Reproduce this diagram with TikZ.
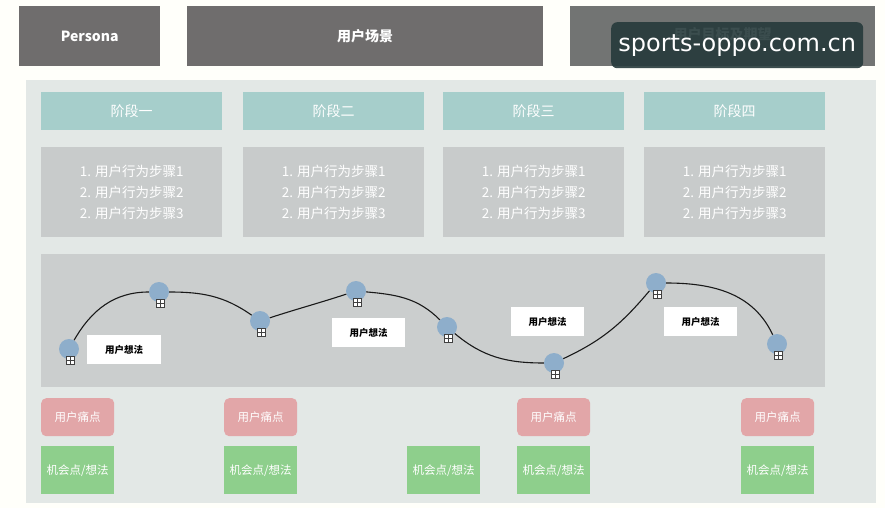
\documentclass[tikz,border=0pt]{standalone}
\usepackage{fontspec}
\setmainfont{Noto Sans CJK SC}
\newfontfamily\wmfont{DejaVu Sans}
\usetikzlibrary{positioning}
\definecolor{hdr}{HTML}{6F6D6D}
\definecolor{hdrb}{HTML}{727473}
\definecolor{panel}{HTML}{E3E8E6}
\definecolor{stage}{HTML}{A6CECB}
\definecolor{stepc}{HTML}{C8CBCB}
\definecolor{wave}{HTML}{CBCECE}
\definecolor{dot}{HTML}{8EAECB}
\definecolor{pain}{HTML}{E2A6A8}
\definecolor{opp}{HTML}{8ECF8C}
\definecolor{wm}{HTML}{263A3B}
\tikzset{
  px/.style={x=1pt,y=-1pt},
  box/.style={draw=none,inner sep=0pt,anchor=north west},
  hdrbox/.style={box,fill=hdr,text=white,font=\bfseries\fontsize{14}{16}\selectfont},
  stagebox/.style={box,fill=stage,text=white,font=\fontsize{14}{16}\selectfont},
  stepbox/.style={box,fill=stepc,text=white,align=center,font=\fontsize{13.5}{21}\selectfont},
  dotnode/.style={circle,fill=dot,minimum size=20pt,inner sep=0pt},
  plusbox/.style={draw=black!75,fill=white,minimum size=8pt,inner sep=0pt,line width=0.6pt,
    path picture={\draw[black!75,line width=0.6pt] (path picture bounding box.west) -- (path picture bounding box.east)
      (path picture bounding box.north) -- (path picture bounding box.south);}},
  thought/.style={box,fill=white,text=black,font=\bfseries\fontsize{9.5}{11}\selectfont},
  painbox/.style={box,fill=pain,rounded corners=5pt,text=white,font=\fontsize{11.5}{13}\selectfont},
  oppbox/.style={box,fill=opp,text=white,font=\fontsize{11.5}{13}\selectfont},
  wave line/.style={draw=black!90,line width=1.1pt},
}
\newcommand{\steptext}{1. 用户行为步骤1\\2. 用户行为步骤2\\2. 用户行为步骤3}
\begin{document}
\begin{tikzpicture}[px]
\useasboundingbox (0,0) rectangle (885,508);
\fill[white!98!yellow] (0,0) rectangle (885,508);
% headers
\node[hdrbox,minimum width=141pt,minimum height=60pt] (persona) at (19,6) {Persona};
\node[hdrbox,minimum width=356pt,minimum height=60pt] (scene) at (187,6) {用户场景};
\node[hdrbox,fill=hdrb,minimum width=305pt,minimum height=60pt] (goal) at (570,6) {\raisebox{6pt}{用户目标及期望}};
% watermark
\node[box,fill=wm,fill opacity=0.9,text opacity=1,rounded corners=6pt,minimum width=252pt,minimum height=46pt,text=white,font=\wmfont\fontsize{24}{26}\selectfont] (wmk) at (611,22) {\raisebox{-3pt}{sports-oppo.com.cn}};
% panel
\node[box,fill=panel,minimum width=850pt,minimum height=423pt] (panel) at (26,80) {};
% stages
\foreach \i/\x/\t in {1/41/阶段一,2/243/阶段二,3/443/阶段三,4/644/阶段四}{
  \node[stagebox,minimum width=181pt,minimum height=38pt] (stage\i) at (\x,92) {\t};
  \node[stepbox,minimum width=181pt,minimum height=90pt] (steps\i) at (\x,147) {\steptext};
}
% wave panel
\node[box,fill=wave,minimum width=784pt,minimum height=133pt] (wave) at (41,254) {};
% thoughts
\node[thought,minimum width=74pt,minimum height=29pt] (tA) at (87,335) {用户想法};
\node[thought,minimum width=73pt,minimum height=29pt] (tB) at (332,318) {用户想法};
\node[thought,minimum width=73pt,minimum height=29pt] (tC) at (511,307) {用户想法};
\node[thought,minimum width=73pt,minimum height=29pt] (tD) at (664,307) {用户想法};
% dots
\foreach \i/\x/\y in {1/69/349,2/159/292,3/260/321,4/356/291,5/447/327,6/554/363,7/656/283,8/777/344}{
  \node[dotnode] (c\i) at (\x,\y) {};
  \node[plusbox] (p\i) at (\x+1,\y+11) {};
}
% curve
\draw[wave line] (c1) to[out=60,in=180] (c2);
\draw[wave line] (c2) to[out=0,in=145] (c3);
\draw[wave line] (c3) to[out=18,in=198] (c4);
\draw[wave line] (c4) to[out=-5,in=135] (c5);
\draw[wave line] (c5) to[out=-40,in=180] (c6);
\draw[wave line] (c6) to[out=25,in=230] (c7);
\draw[wave line] (c7) to[out=0,in=115] (c8);
% plus boxes on top
\foreach \i in {1,...,8}{ \node[plusbox] at (p\i) {}; }
% pain points
\foreach \i/\x in {1/41,2/224,3/517,4/741}{
  \node[painbox,minimum width=73pt,minimum height=38pt] (pain\i) at (\x,398) {用户痛点};
}
% opportunities
\foreach \i/\x in {1/41,2/224,3/407,4/517,5/741}{
  \node[oppbox,minimum width=73pt,minimum height=48pt] (opp\i) at (\x,446) {机会点/想法};
}
\end{tikzpicture}
\end{document}
